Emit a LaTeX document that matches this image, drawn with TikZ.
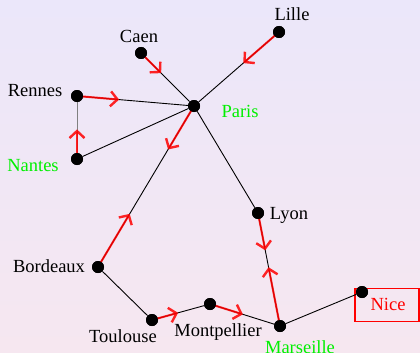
\documentclass[tikz,border=0pt]{standalone}
\usepackage{fontspec}
\setmainfont{Liberation Serif}
\usetikzlibrary{calc,arrows.meta}
\definecolor{bgtop}{RGB}{235,231,250}
\definecolor{bgbot}{RGB}{246,231,240}
\definecolor{citygreen}{RGB}{0,240,0}
\tikzset{
  dot/.style={circle,fill=black,inner sep=0pt,minimum size=12pt},
  lbl/.style={font=\fontsize{18.5}{20}\selectfont,anchor=base,inner sep=0pt},
  glbl/.style={lbl,text=citygreen},
  road/.style={draw=black,line width=0.9pt},
  redarrow/.style={draw=red,line width=2pt,opacity=0.85,-{Straight Barb[length=7pt,width=15pt,line width=2.4pt]}},
  nicebox/.style={draw=red,line width=1.8pt,text=red,minimum width=64pt,minimum height=33pt,inner sep=0pt,font=\fontsize{18.5}{20}\selectfont}
}
\begin{document}
\begin{tikzpicture}[x=1pt,y=-1pt]
\shade[top color=bgtop,bottom color=bgbot] (0,0) rectangle (420,353);
\useasboundingbox (0,0) rectangle (420,353);
% Nice box
\node[nicebox] (nicebox) at (387,305) {};
% dots
\node[dot] (lille) at (279,32) {};
\node[dot] (caen) at (141,53) {};
\node[dot] (rennes) at (77,96) {};
\node[dot] (paris) at (194,106) {};
\node[dot] (nantes) at (77,159) {};
\node[dot] (lyon) at (258,213) {};
\node[dot] (bordeaux) at (98,267) {};
\node[dot] (toulouse) at (152,320) {};
\node[dot] (montpellier) at (210,304) {};
\node[dot] (marseille) at (280,326) {};
\node[dot] (nice) at (362,292) {};
% labels
\node[lbl] (lLille) at (292,21) {Lille};
\node[lbl] (lCaen) at (139,42) {Caen};
\node[lbl] (lRennes) at (35,96) {Rennes};
\node[glbl] (lParis) at (240,117) {Paris};
\node[glbl] (lNantes) at (33,171) {Nantes};
\node[lbl] (lLyon) at (289,219) {Lyon};
\node[lbl] (lBordeaux) at (49,272) {Bordeaux};
\node[lbl] (lToulouse) at (123,342) {Toulouse};
\node[lbl] (lMontpellier) at (218,336) {Montpellier};
\node[glbl] (lMarseille) at (300,353) {Marseille};
\node[lbl,text=red] (lNice) at (388,310) {Nice};
% roads
\draw[road] (caen) -- (paris);
\draw[road] (lille) -- (paris);
\draw[road] (rennes) -- (paris);
\draw[road] (nantes) -- (paris);
\draw[road,draw=black!50] (rennes) -- (nantes);
\draw[road] (paris) -- (bordeaux);
\draw[road] (paris) -- (lyon);
\draw[road] (bordeaux) -- (toulouse);
\draw[road] (toulouse) -- (montpellier);
\draw[road] (montpellier) -- (marseille);
\draw[road] (lyon) -- (marseille);
\draw[road] (marseille) -- (nice);
% red arrows
\draw[redarrow] (caen.center) -- ($(caen.center)!0.38!(paris.center)$);
\draw[redarrow] (lille.center) -- ($(lille.center)!0.42!(paris.center)$);
\draw[redarrow] (rennes.center) -- ($(rennes.center)!0.36!(paris.center)$);
\draw[redarrow] (nantes.center) -- ($(nantes.center)!0.47!(rennes.center)$);
\draw[redarrow] (paris.center) -- ($(paris.center)!0.27!(bordeaux.center)$);
\draw[redarrow] (bordeaux.center) -- ($(bordeaux.center)!0.33!(paris.center)$);
\draw[redarrow] (lyon.center) -- ($(lyon.center)!0.33!(marseille.center)$);
\draw[redarrow] (marseille.center) -- ($(marseille.center)!0.52!(lyon.center)$);
\draw[redarrow] (toulouse.center) -- ($(toulouse.center)!0.45!(montpellier.center)$);
\draw[redarrow] (montpellier.center) -- ($(montpellier.center)!0.47!(marseille.center)$);
% redraw dots on top
\foreach \c in {lille,caen,rennes,paris,nantes,lyon,bordeaux,toulouse,montpellier,marseille,nice}
  \fill (\c) circle (6pt);
\end{tikzpicture}
\end{document}
